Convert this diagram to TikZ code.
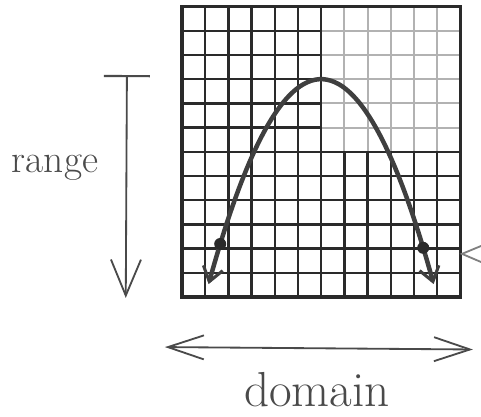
\documentclass[tikz,border=0pt]{standalone}
\usepackage{tikz}
\usetikzlibrary{arrows.meta}
\definecolor{ink}{HTML}{2A2A2A}
\definecolor{pencil}{HTML}{4A4A4A}
\tikzset{
    gridline/.style={line width=1.7pt, ink, step={(1,1)}},
    fadeline/.style={line width=1.4pt, gray!60, step={(1,1)}},
    frame/.style={line width=2.4pt, ink},
    curve/.style={line width=3.2pt, ink!90!white, line cap=round,
        {Straight Barb[length=3.5mm, width=5mm, line width=2.2pt]}-{Straight Barb[length=3.5mm, width=5mm, line width=2.2pt]}},
    hand/.style={line width=1.3pt, pencil, line cap=round},
    label/.style={pencil, inner sep=0pt}
}

\begin{document}
\begin{tikzpicture}[x=0.58cm, y=0.605cm]
    \useasboundingbox (-7.84,-4.92) rectangle (12.89,12.27);
    % Gitter (oberes rechtes Viertel blasser)
    \draw[gridline] (0,0) grid (12,6);
    \draw[gridline] (0,6) grid (6,12);
    \draw[fadeline] (6,6) grid (12,12);
    \draw[gridline] (6,6) -- (6,12);
    \draw[gridline] (6,6) -- (12,6);
    \draw[frame] (0,0) rectangle (12,12);

    % Parabel mit Pfeilen und Punkten
    \draw[curve] plot[domain=1.15:10.85, samples=60, smooth] (\x, {9-0.36*(\x-6)^2});
    \fill[ink] (1.65,2.19) circle[radius=0.15cm];
    \fill[ink] (10.4,2.03) circle[radius=0.15cm];

    % Wertebereich
    \coordinate (rtop) at (-2.37,9.17);
    \coordinate (rbot) at (-2.42,-0.04);
    \draw[hand, {Bar[width=11.5mm, line width=1.5pt]}-{Straight Barb[length=9mm, width=7.5mm]}] (rtop) -- (rbot);
    \node[label, font=\fontsize{28}{32}\selectfont] (range) at (-5.47,5.33) {range};

    % Definitionsbereich
    \coordinate (dleft) at (-0.73,-2.07);
    \coordinate (dright) at (12.54,-2.17);
    \draw[hand, {Straight Barb[length=9mm, width=6mm]}-{Straight Barb[length=9mm, width=6mm]}] (dleft) -- (dright);
    \node[label, font=\fontsize{35}{40}\selectfont] (domain) at (5.82,-3.84) {domain};

    % angeschnittener Pfeil am Rand
    \coordinate (cut) at (12.07,1.78);
    \draw[hand, gray] (13.0,2.15) -- (cut) -- (13.0,1.40);
\end{tikzpicture}
\end{document}
